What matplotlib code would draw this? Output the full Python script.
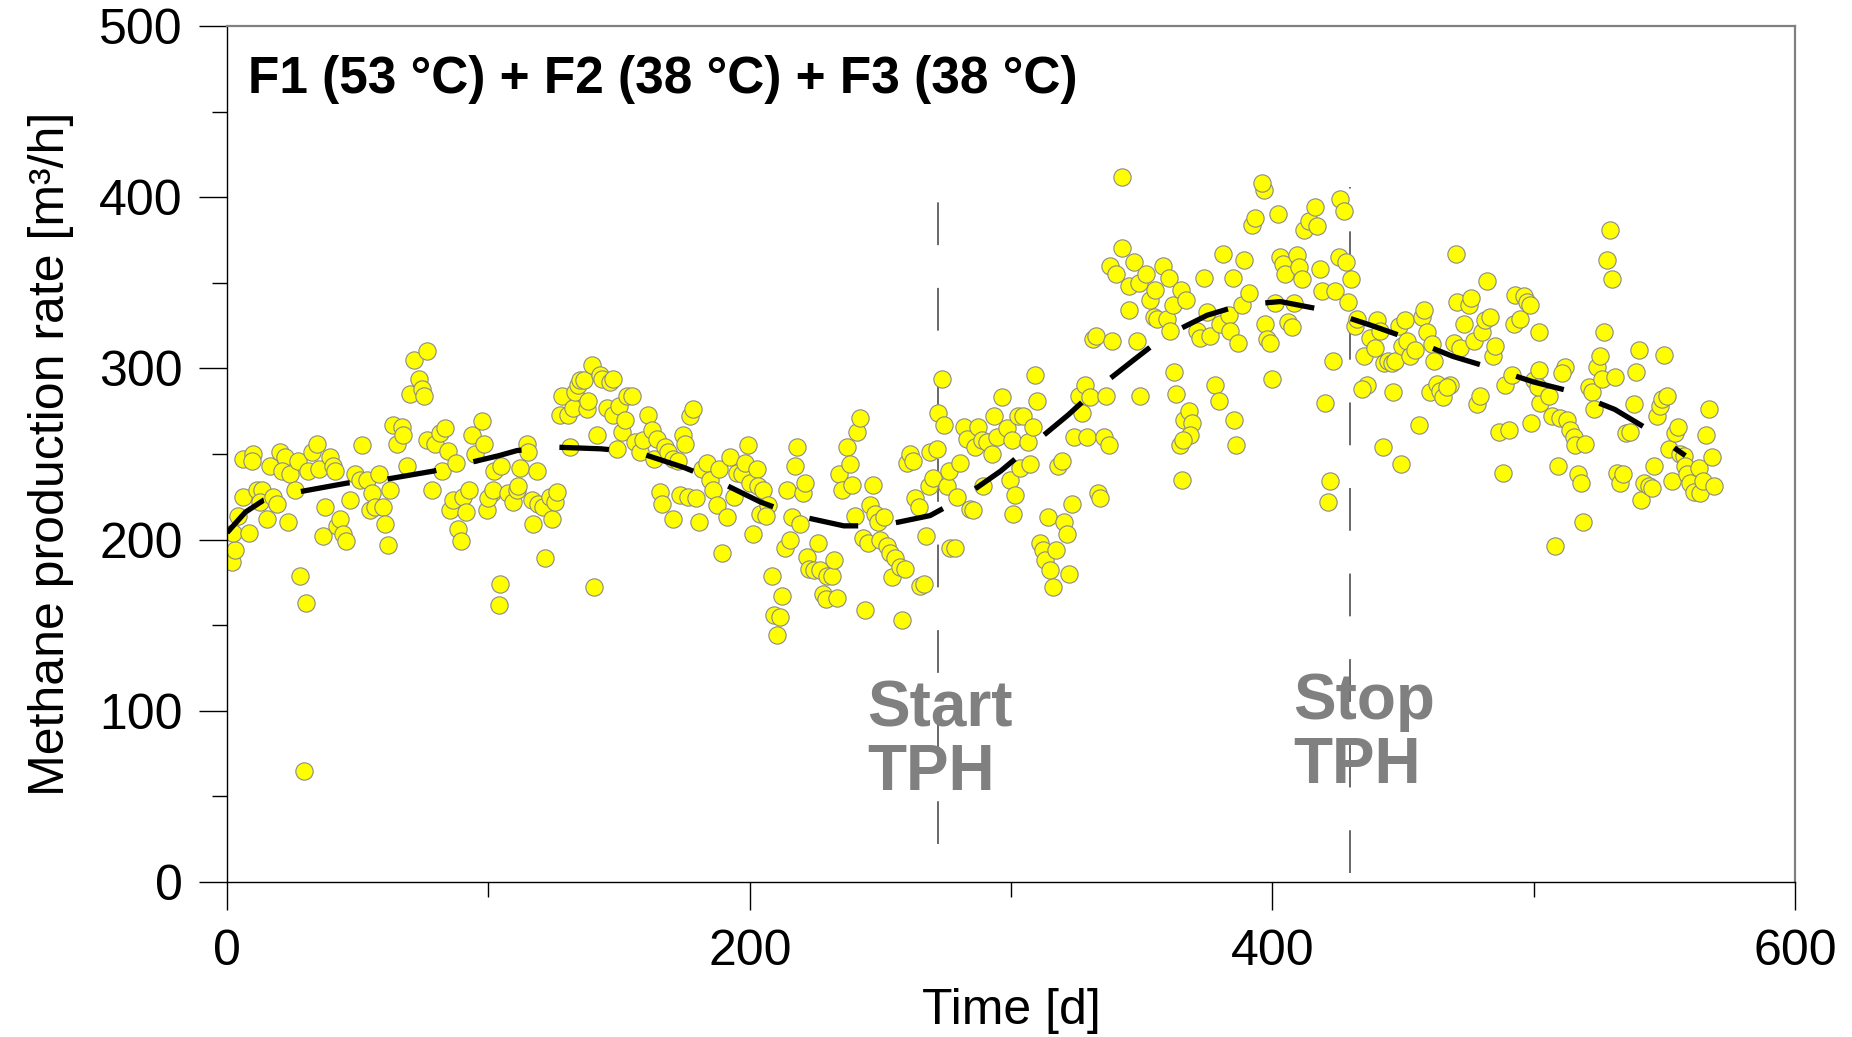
import numpy as np
import matplotlib.pyplot as plt
from matplotlib.ticker import MultipleLocator

plt.rcParams['font.family'] = ['Liberation Sans', 'DejaVu Sans']

# measured methane production rate (day, m3/h)
days = [0, 2, 3, 2.4, 4.3, 6, 8.5, 6, 10, 9.4, 11.3, 13.3, 12.6, 15.2, 16.4, 17.7, 19, 20.3, 22.2, 20.9,
        23.5, 24, 27.3, 26, 28, 30.2, 29.6, 31.1, 32.4, 34.3, 35, 37.5, 36.6, 39.4, 40.7, 41.3, 42, 43.2,
        44.5, 45.5, 47, 49, 50.9, 51.5, 53.4, 55.4, 54.7, 56.6, 58.3, 59.6, 60.5, 61.4, 62.4, 63.4, 65,
        66.8, 67.5, 68.8, 70, 71.7, 73.6, 74.5, 75.4, 76.4, 76.4, 78.3, 79.6, 81.5, 83.4, 82.2, 84.7, 85.3,
        86.6, 87.6, 88.5, 89.4, 90.4, 92.4, 91.5, 93.6, 95, 97.5, 98.4, 99.4, 101.3, 102, 104.5, 103.9,
        100, 101.9, 105, 107.6, 109.6, 110.8, 111.5, 112.1, 114.7, 115.3, 117.2, 118.5, 116.6, 119.1, 121,
        121.7, 123.6, 124.2, 125.5, 126.4, 127.4, 128, 130.6, 131.2, 132.5, 133.2, 134.4, 135.1, 136.4,
        137.6, 138.3, 139.5, 140.4, 141.5, 142.7, 143.4, 145.3, 146.6, 147.6, 147.8, 149.1, 149.8, 151,
        152.3, 153, 154.9, 156.1, 158, 159.3, 161.2, 162.5, 163.2, 164.4, 165.7, 166.3, 167.6, 168.9,
        170.6, 170.8, 172.7, 173.4, 174.6, 175.3, 177.2, 178.2, 176.2, 179.5, 180.4, 181.7, 183.6, 184.8,
        186.1, 187.4, 188.4, 189.3, 191.2, 192.5, 193.8, 195, 197, 198.2, 199.5, 200.2, 201.2, 202.7,
        203.3, 204, 205.2, 207.1, 206.2, 208.4, 212.2, 209.1, 211.4, 210.3, 214.2, 216.1, 217.4, 218.2,
        219.3, 220.3, 221.2, 213.5, 215.4, 221.8, 222.5, 224.4, 226.3, 227, 228.2, 229.2, 229.7, 231.4,
        232.3, 233.3, 234.3, 235.2, 237.1, 238.2, 239, 240.3, 241.2, 242.2, 243.3, 244.1, 245.4, 246.1,
        247.3, 248, 248.9, 249.9, 251.2, 252.4, 253.7, 254.4, 255.6, 257.3, 258.2, 259.5, 260.1, 261.4,
        262.4, 263.3, 264.6, 265.2, 266.5, 267.5, 268.4, 269, 270.3, 271.6, 272.2, 273.5, 274.4, 275.4,
        276.1, 276.7, 278.6, 279.2, 280.3, 281.8, 283.1, 284.3, 285.6, 286.3, 287.5, 288.8, 289.4, 290.7,
        292.6, 293.3, 294.5, 296.5, 298.4, 299.7, 300.3, 300.9, 301.6, 302.8, 304.7, 306.6, 308.3, 309.2,
        310.1, 303.5, 307.3, 314.3, 311.1, 312.1, 313, 314.9, 316.2, 317.2, 318.1, 319.4, 320.3, 321.3,
        322.3, 323.2, 324.1, 325.8, 327.1, 328.3, 329.2, 330.3, 331.5, 332.5, 333.4, 334.1, 335.4, 336.4,
        337.3, 338.5, 345.3, 348.1, 349.4, 354.5, 355.8, 359.6, 360.9, 362.2, 363.2, 365.3, 366, 367.9,
        369.2, 368.5, 364.7, 365.7, 371.1, 372.4, 374.9, 376.2, 378.1, 379.4, 380, 383.2, 383.8, 385.1,
        386.1, 387, 388.3, 397.2, 397.9, 399.2, 399.8,
        342.5, 338, 340, 342.5, 345, 347, 349, 351.5, 353, 355, 358, 360.5, 362, 365, 367, 374, 381, 385,
        389, 391, 392, 393.5,
        396.6, 395.9, 402.3, 411.9, 413.8, 416.4, 417, 425.9, 427.2, 403, 404.2, 404.9, 409.3, 410, 411.3,
        418.3, 418.9, 424, 425.3, 428.2, 430, 429.1, 401.1, 408.1, 406.1, 407.4, 423.1, 420.2, 422.1,
        421.2, 431.7, 432.3, 434.9, 436.1, 434.2, 437.4, 439.3, 440, 441.2, 442.5, 444.4, 445.7, 446.1,
        447, 442.3, 448.3, 449.2, 449.5, 450.8, 451.4, 452.7, 454.6, 455.9, 457.2, 457.8, 459.1, 460.4,
        461, 461.9, 462.9, 464.2, 465.2, 468, 466.7, 469.3, 470.6, 470.3, 471.9, 473.4, 475.1, 476, 477,
        478.2, 479.5, 480.2, 481.4, 482.1, 483.1, 484.4, 485.3, 486.5, 488.2, 489.1, 490.4, 491.6, 492.3,
        492.9, 494.8, 496.1, 497.4, 498.4, 498.9, 500, 501.9, 501.9, 502.5,
        529, 528, 529.9, 527, 512, 510.8, 501.8, 506, 506.9, 509.9, 512.7, 514, 515.2, 515.9, 519.7,
        509.1, 517.1, 518, 519, 508.2, 521, 522.2, 522.9, 524.1, 525.2, 526.1, 531.2, 531.8, 533.1, 534.1,
        535.4, 536.9, 538.2, 539.2, 540.1, 541, 542, 543.9, 545.2, 546.1, 547.1, 548.1, 549, 551, 549.9,
        551.6, 552.9, 554.1, 555, 556, 557.3, 558, 558.6, 559.9, 561.2, 563.1, 563.7, 564.7, 566, 566.9,
        568.2, 569.1]
rate = [188, 187, 194, 204, 214, 225, 204, 247, 250, 246, 229, 229, 222, 212, 243, 225, 221, 251, 248, 240,
        210, 238, 246, 229, 179, 163, 65, 240, 251, 256, 241, 219, 202, 248, 243, 240, 208, 212,
        203, 199, 223, 238, 235, 255, 235, 227, 217, 219, 238, 219, 209, 197, 229, 267, 256,
        266, 261, 243, 285, 305, 294, 288, 284, 310, 258, 229, 256, 262, 265, 240, 252, 217,
        223, 245, 206, 199, 225, 229, 216, 261, 250, 269, 256, 217, 227, 240, 174, 162,
        224, 229, 243, 227, 222, 229, 231, 242, 256, 251, 209, 240, 223, 221, 219,
        189, 225, 212, 222, 228, 273, 284, 273, 254, 277, 286, 290, 293, 293,
        276, 281, 302, 172, 261, 296, 294, 277, 292, 294, 273, 253, 278, 263,
        270, 284, 284, 257, 251, 258, 273, 264, 247, 259, 228, 221, 254, 251,
        212, 247, 246, 226, 261, 256, 272, 276, 225, 224, 210, 241, 245, 235,
        229, 220, 241, 192, 213, 248, 225, 239, 238, 245, 255, 233, 203, 241,
        231, 215, 229, 220, 214, 179, 167, 156, 155, 144, 229, 213, 243, 254,
        209, 227, 233, 195, 200, 190, 183, 182, 198, 182, 168, 165, 179, 179,
        188, 166, 238, 229, 254, 244, 232, 214, 263, 271, 201, 159, 198, 220,
        232, 215, 210, 200, 213, 196, 192, 178, 189, 184, 153, 183, 245, 250,
        246, 224, 219, 173, 174, 202, 231, 251, 236, 253, 274, 294, 267, 231,
        240, 195, 195, 225, 245, 266, 259, 218, 217, 254, 266, 258, 231, 257,
        250, 272, 260, 283, 265, 235, 258, 215, 226, 272, 272, 257, 266, 296,
        281, 242, 244, 213, 198, 194, 188, 182, 172, 194, 243, 246, 210, 203,
        180, 221, 260, 284, 274, 290, 260, 283, 317, 319, 227, 224, 260, 284,
        255, 316, 334, 316, 284, 330, 329, 329, 322, 298, 285, 235, 270, 275,
        268, 261, 255, 258, 322, 318, 333, 319, 290, 281, 326, 331, 322, 270,
        255, 315, 337, 326, 317, 315, 294,
        412, 360, 355, 370, 348, 362, 350, 355, 340, 346, 360, 353, 337, 346, 340, 353, 367, 353,
        363, 344, 384, 388,
        404, 408, 390, 381, 386, 394, 383, 399, 392, 365, 361, 355, 366, 359, 352,
        358, 345, 345, 365, 362, 352, 339, 338, 338, 327, 324, 304, 280, 234,
        222, 325, 329, 307, 290, 288, 318, 312, 328, 322, 303, 304, 303, 286,
        304, 254, 325, 244, 313, 328, 316, 307, 311, 267, 330, 334, 321, 286,
        314, 304, 291, 287, 283, 290, 289, 315, 339, 367, 312, 326, 337, 341, 316,
        279, 284, 321, 328, 351, 330, 307, 313, 263, 239, 290, 264, 296, 326,
        343, 329, 342, 339, 337, 268, 293, 321, 299, 280,
        381, 363, 352, 321, 301, 297, 289, 284, 272, 271, 270, 264, 260, 255, 256,
        243, 238, 233, 210, 196, 289, 286, 276, 301, 307, 294, 295, 239, 233, 238,
        262, 263, 279, 298, 311, 223, 233, 231, 230, 243, 272, 278, 282, 284, 308,
        253, 234, 262, 266, 250, 249, 243, 238, 233, 228, 242, 227, 234, 261, 276,
        248, 231]

# trend curve
trend_days = [0, 7, 14, 28, 46, 60, 79, 93, 104, 111, 125, 143, 157, 175, 188, 204, 218, 236, 250, 269,
              281, 296, 307, 322, 332, 347, 358, 375, 388, 403, 420, 438, 451, 469, 482, 500, 513, 531,
              543, 558]
trend_rate = [204, 216, 223, 228, 233, 235, 240, 245, 249, 252, 254, 253, 251, 242, 234, 222, 214, 208,
              208, 214, 224, 240, 254, 273, 287, 305, 318, 331, 337, 339, 334, 325, 318, 307, 301, 292,
              287, 276, 265, 249]

# TPH start / stop markers
tph_days = [272, 429.5]
tph_ymin = [22, 5]
tph_ymax = [398, 406]

fig = plt.figure(figsize=(18.52, 10.37), dpi=100)
ax = fig.add_axes([0.1226, 0.1495, 0.8467, 0.8255])

ax.vlines(tph_days, tph_ymin, tph_ymax, colors='#404040', linewidth=1.1,
          linestyles=(0, (28, 28)), zorder=1)
ax.scatter(days, rate, s=155, facecolor='#FFFF00', edgecolor='#8a8a8a',
           linewidth=0.8, zorder=2)
ax.plot(trend_days, trend_rate, color='black', linewidth=3.8,
        dashes=(9.4, 7.2), zorder=3)

ax.text(245, 54, 'Start\nTPH', color='#808080', fontsize=46, fontweight='bold',
        ha='left', va='baseline', linespacing=1.07)
ax.text(408, 58, 'Stop\nTPH', color='#808080', fontsize=46, fontweight='bold',
        ha='left', va='baseline', linespacing=1.07)
ax.text(8, 461, 'F1 (53 °C) + F2 (38 °C) + F3 (38 °C)', fontsize=37,
        fontweight='bold', ha='left', va='baseline')

ax.set_xlim(0, 600)
ax.set_ylim(0, 500)
ax.xaxis.set_major_locator(MultipleLocator(200))
ax.xaxis.set_minor_locator(MultipleLocator(100))
ax.yaxis.set_major_locator(MultipleLocator(100))
ax.yaxis.set_minor_locator(MultipleLocator(50))
ax.tick_params(which='major', direction='out', length=20, width=1, labelsize=36, pad=12)
ax.tick_params(which='minor', direction='out', length=11, width=1)
ax.tick_params(axis='x', which='major', pad=14)

for s in ['left', 'bottom']:
   ax.spines[s].set_color('black')
   ax.spines[s].set_linewidth(1.0)
for s in ['top', 'right']:
   ax.spines[s].set_color('#808080')
   ax.spines[s].set_linewidth(1.6)

ax.set_xlabel('Time [d]', fontsize=36, labelpad=9)
ax.set_ylabel('Methane production rate [m³/h]', fontsize=36, labelpad=18)

fig.savefig('out.png', dpi=100)
